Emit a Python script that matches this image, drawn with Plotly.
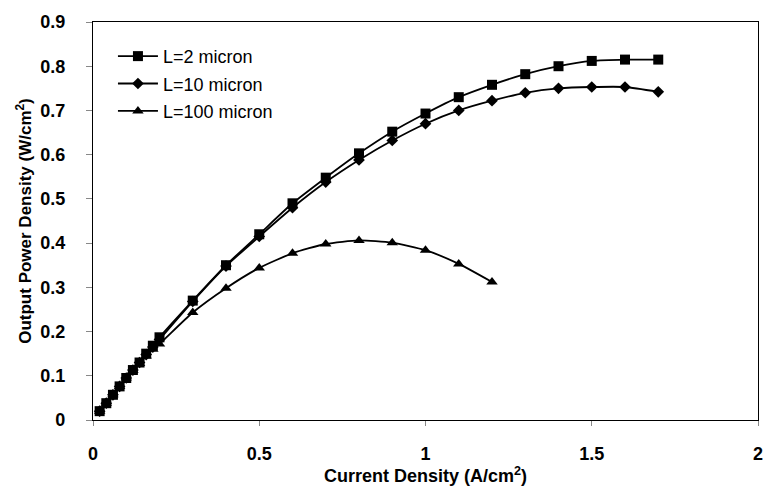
import plotly.graph_objects as go

x_low = [0.02, 0.04, 0.06, 0.08, 0.10, 0.12, 0.14, 0.16, 0.18, 0.20]
x_high = [0.3, 0.4, 0.5, 0.6, 0.7, 0.8, 0.9, 1.0, 1.1, 1.2, 1.3, 1.4, 1.5, 1.6, 1.7]

x_L2 = x_low + x_high
y_L2 = [0.020, 0.038, 0.057, 0.076, 0.095, 0.113, 0.130, 0.150, 0.168, 0.187,
        0.270, 0.350, 0.420, 0.490, 0.548, 0.603, 0.652, 0.693, 0.730, 0.758,
        0.782, 0.800, 0.812, 0.815, 0.815]

x_L10 = x_low + x_high
y_L10 = [0.020, 0.038, 0.057, 0.076, 0.095, 0.113, 0.130, 0.148, 0.165, 0.182,
         0.268, 0.348, 0.415, 0.480, 0.538, 0.588, 0.632, 0.670, 0.700, 0.722,
         0.740, 0.750, 0.753, 0.753, 0.742]

x_L100 = x_low + x_high[:10]
y_L100 = [0.020, 0.038, 0.057, 0.076, 0.095, 0.112, 0.128, 0.145, 0.160, 0.172,
          0.243, 0.298, 0.344, 0.377, 0.398, 0.406, 0.401, 0.384, 0.353, 0.312]

series = [
    ("L=2 micron", x_L2, y_L2, "square", 10),
    ("L=10 micron", x_L10, y_L10, "diamond", 9),
    ("L=100 micron", x_L100, y_L100, "triangle-up", 10),
]

fig = go.Figure()
for i, (name, xs, ys, sym, sz) in enumerate(series):
    fig.add_trace(go.Scatter(
        x=xs, y=ys, name=name, mode="lines+markers", legendgroup=f"g{i}",
        line=dict(color="black", width=1.8, shape="spline", smoothing=0.6),
        marker=dict(symbol=sym, size=sz, color="black"),
    ))

font_family = "Liberation Sans, Arial, sans-serif"
fig.update_layout(
    width=770, height=498,
    margin=dict(l=93, r=7, t=22, b=78),
    paper_bgcolor="white", plot_bgcolor="white",
    font=dict(family=font_family, color="black"),
    showlegend=True,
    legend=dict(x=0.03, y=0.96, xanchor="left", yanchor="top",
                bgcolor="rgba(0,0,0,0)", font=dict(size=18, family=font_family),
                tracegroupgap=1, itemwidth=40),
)
fig.update_xaxes(
    range=[0, 2], tickvals=[0, 0.5, 1, 1.5, 2], ticktext=["0", "0.5", "1", "1.5", "2"],
    showgrid=False, zeroline=False, showline=True, linecolor="black", linewidth=1.2,
    mirror=True, ticks="outside", ticklen=5, tickcolor="#888888",
    tickfont=dict(size=18, family=font_family, weight="bold"),
    ticklabelstandoff=12,
    title=dict(text="<b>Current Density (A/cm<sup>2</sup>)</b>", font=dict(size=18), standoff=6),
)
fig.update_yaxes(
    range=[0, 0.9], tickvals=[0, 0.1, 0.2, 0.3, 0.4, 0.5, 0.6, 0.7, 0.8, 0.9],
    ticktext=["0", "0.1", "0.2", "0.3", "0.4", "0.5", "0.6", "0.7", "0.8", "0.9"],
    showgrid=False, zeroline=False, showline=True, linecolor="black", linewidth=1.2,
    mirror=True, ticks="outside", ticklen=6, tickcolor="#888888",
    tickfont=dict(size=18, family=font_family, weight="bold"),
    ticklabelstandoff=17,
    title=dict(text="<b>Output Power Density (W/cm<sup>2</sup>)</b>", font=dict(size=17), standoff=4),
)
fig.write_html("out.html")
